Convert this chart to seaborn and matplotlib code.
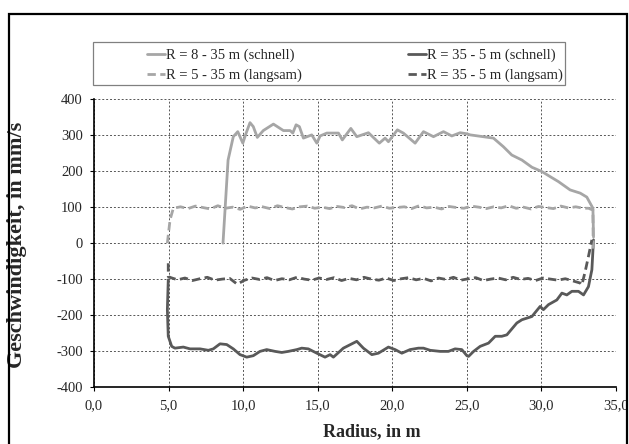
import matplotlib
matplotlib.use("Agg")
import matplotlib.pyplot as plt
from matplotlib.patches import Rectangle
from matplotlib.ticker import FuncFormatter
import seaborn as sns

# R = 8 - 35 m (schnell)
fast_out_x = [8.65, 8.99, 9.34, 9.64, 9.98, 10.2, 10.46, 10.68, 10.95, 11.35, 12.03, 12.7,
              13.15, 13.33, 13.55, 13.77, 14.04, 14.6, 14.94, 15.16, 15.61, 16.05, 16.39,
              16.65, 17.22, 17.62, 18.4, 19.13, 19.52, 19.74, 20.34, 20.74, 21.53, 22.09,
              22.76, 23.43, 23.99, 24.55, 25.0, 25.22, 26.78, 27.45, 28.01, 28.69, 29.36,
              30.03, 30.58, 31.14, 31.92, 32.6, 33.04, 33.45, 33.49]
fast_out_v = [0, 231, 296, 310, 278, 306, 335, 324, 294, 313, 331, 313,
              313, 306, 329, 324, 292, 301, 278, 298, 306, 306, 306,
              287, 319, 296, 307, 278, 292, 282, 315, 306, 278, 310,
              296, 310, 298, 307, 304, 301, 292, 268, 245, 231, 211,
              199, 185, 171, 148, 139, 128, 97, 17]

# R = 35 - 5 m (schnell)
fast_in_x = [4.98, 4.92, 4.98, 5.21, 5.43, 5.99, 6.44, 7.11, 7.67, 8.0, 8.45, 8.9, 9.34,
             9.79, 10.24, 10.68, 11.13, 11.58, 12.14, 12.59, 13.03, 13.6, 13.93, 14.37,
             14.94, 15.49, 15.83, 16.05, 16.72, 17.62, 18.06, 18.63, 19.07, 19.74, 20.19,
             20.64, 21.19, 21.75, 22.09, 22.54, 23.21, 23.76, 24.21, 24.66, 25.0, 25.11,
             25.45, 25.89, 26.45, 26.9, 27.34, 27.68, 28.35, 28.69, 29.36, 29.91, 30.13,
             30.47, 31.03, 31.37, 31.7, 32.04, 32.48, 32.82, 33.15, 33.38, 33.49]
fast_in_v = [-102, -185, -259, -287, -292, -289, -294, -294, -298, -294, -280, -282, -294,
             -310, -317, -313, -301, -296, -301, -304, -301, -296, -292, -294,
             -306, -317, -310, -317, -292, -273, -292, -310, -306, -289, -296,
             -306, -296, -292, -292, -298, -301, -301, -294, -296, -313, -315,
             -301, -287, -278, -259, -259, -255, -222, -213, -204, -176, -185,
             -171, -158, -139, -144, -134, -134, -144, -121, -74, 9]

# R = 5 - 35 m (langsam)
slow_out_x = [4.92, 5.1, 5.32, 5.8, 6.3, 6.8, 7.3, 7.8, 8.3, 8.8, 9.3, 9.8, 10.3, 10.8,
              11.3, 11.8, 12.3, 12.8, 13.3, 13.8, 14.3, 14.8, 15.3, 15.8, 16.3, 16.8,
              17.3, 17.8, 18.3, 18.8, 19.3, 19.8, 20.3, 20.8, 21.3, 21.8, 22.3, 22.8,
              23.3, 23.8, 24.3, 24.8, 25.3, 25.8, 26.3, 26.8, 27.3, 27.8, 28.3, 28.8,
              29.3, 29.8, 30.3, 30.8, 31.3, 31.8, 32.3, 32.8, 33.15, 33.45, 33.47]
slow_out_v = [0, 65, 97, 101, 96, 103, 99, 95, 104, 97, 100, 94, 103, 98,
              101, 96, 104, 99, 95, 101, 103, 97, 100, 96, 102, 99,
              104, 95, 100, 98, 103, 97, 99, 101, 96, 104, 98, 100,
              95, 102, 99, 97, 103, 100, 96, 101, 98, 104, 97, 100,
              95, 102, 99, 96, 103, 98, 101, 97, 97, 92, -20]

# R = 35 - 5 m (langsam)
slow_in_x = [4.98, 4.98, 5.16, 5.6, 6.1, 6.6, 7.1, 7.6, 8.1, 8.6, 9.1, 9.6, 10.1, 10.6,
             11.1, 11.6, 12.1, 12.6, 13.1, 13.6, 14.1, 14.6, 15.1, 15.6, 16.1, 16.6,
             17.1, 17.6, 18.1, 18.6, 19.1, 19.6, 20.1, 20.6, 21.1, 21.6, 22.1, 22.6,
             23.1, 23.6, 24.1, 24.6, 25.1, 25.6, 26.1, 26.6, 27.1, 27.6, 28.1, 28.6,
             29.1, 29.6, 30.1, 30.6, 31.1, 31.6, 32.27, 32.6, 32.71, 32.93, 33.15, 33.38]
slow_in_v = [-56, -93, -96, -102, -97, -104, -99, -95, -103, -100, -98, -114, -103, -97,
             -101, -96, -104, -99, -102, -95, -100, -103, -97, -101, -96, -104,
             -98, -102, -95, -100, -103, -97, -104, -99, -96, -102, -98, -105,
             -97, -101, -95, -103, -99, -96, -104, -100, -97, -102, -95, -101,
             -98, -104, -97, -100, -103, -99, -107, -111, -116, -79, -37, 9]

light = "#a6a6a6"
dark = "#595959"

sns.set_style("white")
plt.rcParams["font.family"] = ["Liberation Serif", "DejaVu Serif"]

fig = plt.figure(figsize=(6.29, 4.44), dpi=100)
ax = fig.add_axes([0.1494, 0.1284, 0.830, 0.648])

lw = 2.0
sns.lineplot(x=fast_out_x, y=fast_out_v, sort=False, estimator=None, color=light,
             lw=lw, label="R = 8 - 35 m (schnell)", ax=ax)
sns.lineplot(x=fast_in_x, y=fast_in_v, sort=False, estimator=None, color=dark,
             lw=lw, label="R = 35 - 5 m (schnell)", ax=ax)
sns.lineplot(x=slow_out_x, y=slow_out_v, sort=False, estimator=None, color=light,
             lw=lw, dashes=False, label="R = 5 - 35 m (langsam)", ax=ax)
sns.lineplot(x=slow_in_x, y=slow_in_v, sort=False, estimator=None, color=dark,
             lw=lw, dashes=False, label="R = 35 - 5 m (langsam)", ax=ax)
ax.lines[2].set_dashes((3, 1.6))
ax.lines[3].set_dashes((3, 1.6))

ax.set_xlim(0, 35)
ax.set_ylim(-400, 400)
ax.set_xticks(range(0, 36, 5))
ax.set_yticks(range(-400, 401, 100))
ax.xaxis.set_major_formatter(FuncFormatter(lambda v, p: f"{v:.1f}".replace(".", ",")))
ax.yaxis.set_major_formatter(FuncFormatter(lambda v, p: f"{int(v)}"))
ax.tick_params(axis="both", direction="out", length=3, width=0.8, color="black",
               labelsize=10.5, left=True, bottom=True)
ax.tick_params(axis="x", pad=6)
ax.tick_params(axis="y", pad=5)

ax.grid(True, color="#555555", linestyle=(0, (2, 2)), linewidth=0.7)
for s in ["top", "right"]:
    ax.spines[s].set_visible(False)
for s in ["left", "bottom"]:
    ax.spines[s].set_color("black")
    ax.spines[s].set_linewidth(1.2)

ax.set_xlabel("Radius, in m", fontsize=13, fontweight="bold")
ax.set_ylabel("Geschwindigkeit, in mm/s", fontsize=16, fontweight="bold")
ax.xaxis.set_label_coords(0.533, -0.156)
ax.xaxis.label.set_va("center")
ax.yaxis.set_label_coords(-0.1475, 0.494)
ax.yaxis.label.set_va("center")

h, l = ax.get_legend_handles_labels()
order = [0, 2, 1, 3]
ax.legend([h[i] for i in order], [l[i] for i in order], ncol=2, frameon=False,
          loc="upper left", bbox_to_anchor=(147 / 629, 1 - 49 / 444),
          bbox_transform=fig.transFigure, borderaxespad=0, borderpad=0,
          fontsize=10.5, handlelength=1.25, handletextpad=0.05,
          columnspacing=7.25, labelspacing=0.44)

fig.patches.append(Rectangle((93 / 629, 1 - 85 / 444), 472 / 629, 43 / 444,
                             transform=fig.transFigure, fill=False,
                             edgecolor="#808080", lw=0.9))
fig.patches.append(Rectangle((9 / 629, -0.01), 618 / 629, 1 - 14 / 444 + 0.01,
                             transform=fig.transFigure, fill=False,
                             edgecolor="black", lw=1.6, clip_on=False))

fig.savefig("out.png", dpi=100)
